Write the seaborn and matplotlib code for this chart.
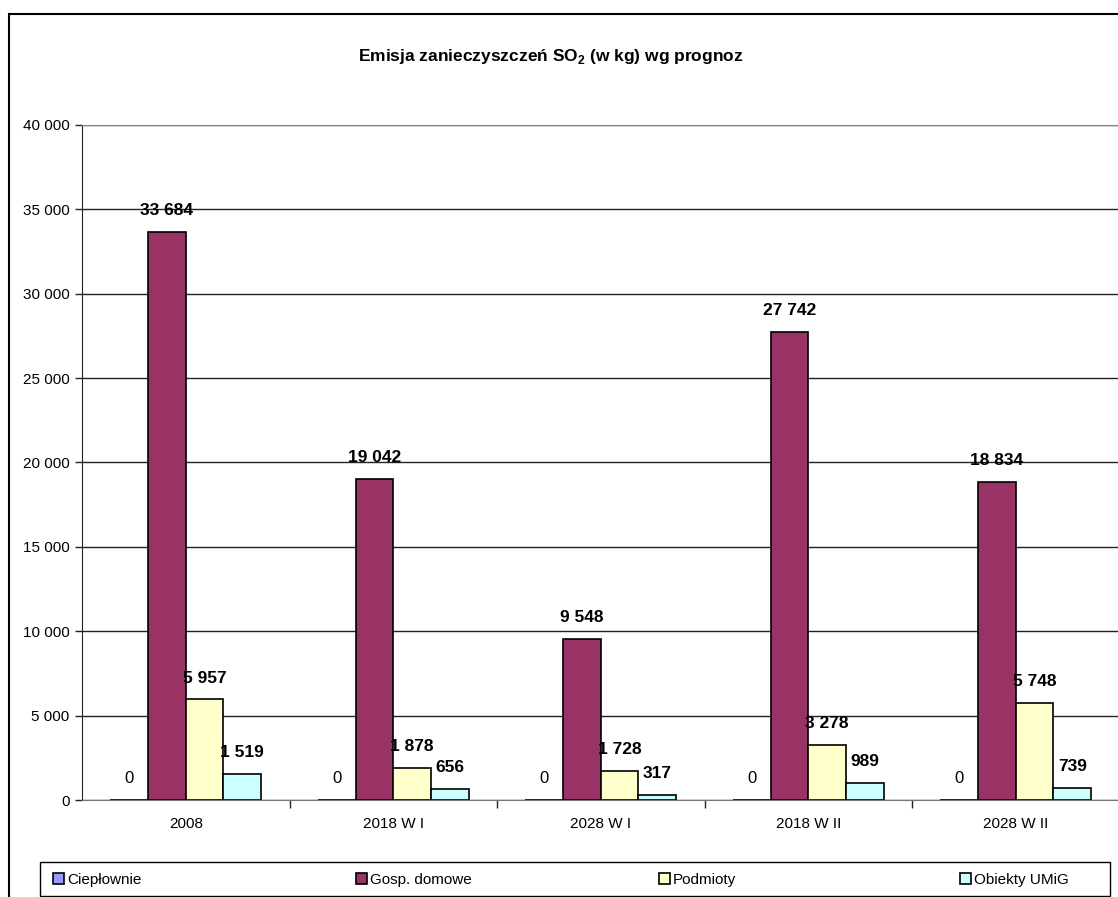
import matplotlib.pyplot as plt
import seaborn as sns
import pandas as pd
from matplotlib.patches import Rectangle
from matplotlib.ticker import FuncFormatter, FixedLocator

# dane
kategorie = ['2008', '2018 W I', '2028 W I', '2018 W II', '2028 W II']
cieplownie = [0, 0, 0, 0, 0]
gosp_domowe = [33684, 19042, 9548, 27742, 18834]
podmioty = [5957, 1878, 1728, 3278, 5748]
obiekty_umig = [1519, 656, 317, 989, 739]

serie = ['Ciepłownie', 'Gosp. domowe', 'Podmioty', 'Obiekty UMiG']
kolory = ['#9999FF', '#993366', '#FFFFCC', '#CCFFFF']

df = pd.DataFrame({
    'rok': kategorie * 4,
    'seria': [s for s in serie for _ in kategorie],
    'emisja': cieplownie + gosp_domowe + podmioty + obiekty_umig,
})

sns.set_style('white')
plt.rcParams['font.family'] = ['Liberation Sans', 'DejaVu Sans']
plt.rcParams['text.color'] = 'black'
plt.rcParams['xtick.color'] = 'black'
plt.rcParams['ytick.color'] = 'black'


def fmt(v, pos=None):
    return f'{int(round(v)):,}'.replace(',', ' ')


fig = plt.figure(figsize=(11.18, 8.97), dpi=100)
ax = fig.add_axes([82 / 1118, 1 - 800 / 897, 1037.5 / 1118, 675 / 897])

sns.barplot(data=df, x='rok', y='emisja', hue='seria', palette=kolory, saturation=1,
            width=0.727, edgecolor='black', linewidth=1.2, ax=ax, legend=True)

ax.set_ylim(0, 40000)
ax.set_xlim(-0.5, 4.5)
ax.set_yticks(range(0, 40001, 5000))
ax.yaxis.set_major_formatter(FuncFormatter(fmt))
ax.grid(axis='y', color='#222222', linewidth=1)
ax.set_axisbelow(True)
ax.set_xlabel('')
ax.set_ylabel('')

for s in ['top', 'right']:
    ax.spines[s].set_color('#888888')
ax.spines['left'].set_color('#222222')
ax.spines['bottom'].set_color('#777777')

ax.tick_params(axis='y', left=True, length=5, width=1, color='#222222',
               labelsize=11, pad=4)
ax.tick_params(axis='x', bottom=False, labelsize=11, pad=9)
ax.xaxis.set_minor_locator(FixedLocator([0.5, 1.5, 2.5, 3.5]))
ax.tick_params(axis='x', which='minor', bottom=True, length=6, width=1, color='#222222')

# etykiety wartosci
for cont in ax.containers:
    txts = ax.bar_label(cont, labels=[fmt(b.get_height()) for b in cont], padding=10,
                        fontsize=12.5, fontweight='bold')
    for t, b in zip(txts, cont):
        if b.get_height() == 0:
            t.set_fontweight('normal')
            t.set_fontsize(12)

fig.text(551 / 1118, 1 - 57 / 897, 'Emisja zanieczyszczeń SO$_\\mathregular{2}$ (w kg) wg prognoz',
         ha='center', va='center', fontsize=12.5, fontweight='bold')

# legenda
h, l = ax.get_legend_handles_labels()
ax.legend_.remove()
fig.patches.append(Rectangle((40 / 1118, 1 - 896 / 897), 1070 / 1118, 34 / 897,
                             transform=fig.transFigure, fill=False,
                             edgecolor='black', linewidth=1))
for hh, ll, x0 in zip(h, l, [53, 356, 659, 960]):
    fig.legend([hh], [ll], loc='center left', bbox_to_anchor=(x0 / 1118, 1 - 880 / 897),
               frameon=False, fontsize=11, handlelength=0.75, handleheight=0.75,
               handletextpad=0.15, borderaxespad=0, borderpad=0)

# ramka wykresu
fig.patches.append(Rectangle((9 / 1118, -0.05), 1.2, 1 - 14 / 897 + 0.05,
                             transform=fig.transFigure, fill=False,
                             edgecolor='black', linewidth=1.5))

fig.savefig('out.png', dpi=100)
